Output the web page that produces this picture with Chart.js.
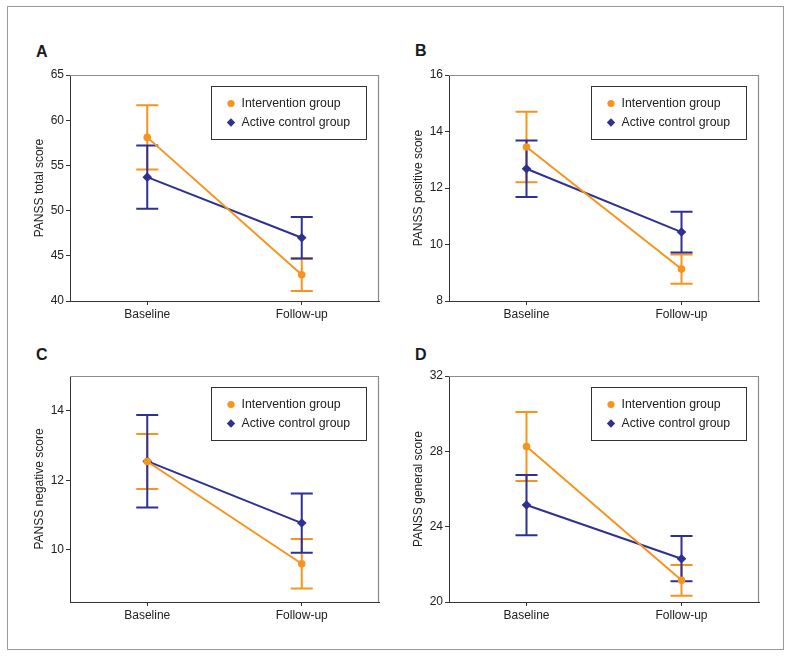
<!DOCTYPE html>
<html><head><meta charset="utf-8">
<script src="https://cdn.jsdelivr.net/npm/chart.js@4.4.0/dist/chart.umd.min.js"></script>
<style>
html,body{margin:0;padding:0;background:#fff;}
body{width:791px;height:657px;position:relative;overflow:hidden;font-family:"Liberation Sans",Arial,sans-serif;}
#frame{position:absolute;left:7px;top:6px;width:777px;height:644px;border:1px solid #9a9a9a;box-sizing:border-box;}
.lbl{position:absolute;font-weight:bold;font-size:16px;line-height:16px;color:#1a1a1a;}
.box{position:absolute;}
</style></head><body>
<div id="frame"></div>
<div class="lbl" style="left:36px;top:44px;">A</div>
<div class="lbl" style="left:415px;top:43px;">B</div>
<div class="lbl" style="left:36px;top:347px;">C</div>
<div class="lbl" style="left:415px;top:347px;">D</div>
<div class="box" id="bA"><canvas id="cA"></canvas></div>
<div class="box" id="bB"><canvas id="cB"></canvas></div>
<div class="box" id="bC"><canvas id="cC"></canvas></div>
<div class="box" id="bD"><canvas id="cD"></canvas></div>
<script>
// ---- data ----
const categories = ['Baseline', 'Follow-up'];
const seriesNames = ['Intervention group', 'Active control group'];

// Panel A: PANSS total score
const intA = [58.1, 42.9];
const intAErr = [3.55, 1.8];
const ctlA = [53.7, 47.0];
const ctlAErr = [3.5, 2.3];
const ticksA = [40, 45, 50, 55, 60, 65];

// Panel B: PANSS positive score
const intB = [13.45, 9.13];
const intBErr = [1.25, 0.52];
const ctlB = [12.68, 10.44];
const ctlBErr = [1.0, 0.72];
const ticksB = [8, 10, 12, 14, 16];

// Panel C: PANSS negative score
const intC = [12.54, 9.6];
const intCErr = [0.79, 0.71];
const ctlC = [12.55, 10.77];
const ctlCErr = [1.33, 0.85];
const ticksC = [10, 12, 14];

// Panel D: PANSS general score
const intD = [28.26, 21.15];
const intDErr = [1.83, 0.82];
const ctlD = [25.15, 22.3];
const ctlDErr = [1.6, 1.2];
const ticksD = [20, 24, 28, 32];

// ---- style ----
const ORANGE = '#f7941d';
const BLUE = '#2e3192';
const FONT = '"Liberation Sans", Arial, sans-serif';
const AXIS = '#333333';

const errPlugin = {
  id: 'errbars',
  beforeDatasetsDraw(chart) {
    const ctx = chart.ctx;
    const ys = chart.scales.y;
    chart.data.datasets.forEach((ds, i) => {
      const meta = chart.getDatasetMeta(i);
      ctx.save();
      ctx.strokeStyle = ds.borderColor;
      ctx.lineWidth = 2;
      meta.data.forEach((pt, j) => {
        const v = ds.data[j], e = ds.err[j];
        const yt = ys.getPixelForValue(v + e), yb = ys.getPixelForValue(v - e);
        const x = pt.x, w = 11;
        ctx.beginPath();
        ctx.moveTo(x, yt); ctx.lineTo(x, yb);
        ctx.moveTo(x - w, yt); ctx.lineTo(x + w, yt);
        ctx.moveTo(x - w, yb); ctx.lineTo(x + w, yb);
        ctx.stroke();
      });
      ctx.restore();
    });
  }
};

const framePlugin = {
  id: 'frameBox',
  beforeDatasetsDraw(chart) {
    const {ctx, chartArea: a} = chart;
    ctx.save();
    ctx.strokeStyle = '#8c8c8c';
    ctx.lineWidth = 1.2;
    ctx.beginPath();
    ctx.moveTo(a.left, Math.round(a.top) + 0.5);
    ctx.lineTo(Math.round(a.right) - 0.5, Math.round(a.top) + 0.5);
    ctx.lineTo(Math.round(a.right) - 0.5, a.bottom);
    ctx.stroke();
    ctx.restore();
  }
};

const legendPlugin = {
  id: 'boxLegend',
  afterDraw(chart) {
    const {ctx, chartArea: a} = chart;
    const L = Math.round(a.right - 168) + 0.5, T = Math.round(a.top + 11) + 0.5;
    const W = 155, H = 53;
    ctx.save();
    ctx.fillStyle = '#fff';
    ctx.fillRect(L, T, W, H);
    ctx.strokeStyle = '#333';
    ctx.lineWidth = 1;
    ctx.strokeRect(L, T, W, H);
    const ds = chart.data.datasets;
    ctx.font = '12.3px ' + FONT;
    ctx.textBaseline = 'middle';
    ctx.textAlign = 'left';
    // row 1 circle
    ctx.fillStyle = ds[0].borderColor;
    ctx.beginPath(); ctx.arc(L + 19.5, T + 17, 3.6, 0, Math.PI * 2); ctx.fill();
    // row 2 diamond
    ctx.fillStyle = ds[1].borderColor;
    const cx = L + 19.5, cy = T + 36, r = 4.2;
    ctx.beginPath(); ctx.moveTo(cx, cy - r); ctx.lineTo(cx + r, cy); ctx.lineTo(cx, cy + r); ctx.lineTo(cx - r, cy); ctx.closePath(); ctx.fill();
    ctx.fillStyle = '#222';
    ctx.fillText(ds[0].label, L + 30, T + 17.5);
    ctx.fillText(ds[1].label, L + 30, T + 36.5);
    ctx.restore();
  }
};

function makePanel(boxId, canvasId, rect, yTitle, yMin, yMax, yTicks, iv, ie, cv, ce) {
  const [Lp, Tp, Rp, Bp] = rect;
  const box = document.getElementById(boxId);
  box.style.left = (Lp - 60) + 'px';
  box.style.top = (Tp - 35) + 'px';
  box.style.width = (Rp - Lp + 71) + 'px';
  box.style.height = (Bp - Tp + 64) + 'px';
  new Chart(document.getElementById(canvasId), {
    type: 'line',
    data: {
      labels: categories,
      datasets: [
        {label: seriesNames[0], data: iv, err: ie, borderColor: ORANGE, backgroundColor: ORANGE,
         pointBackgroundColor: ORANGE, pointBorderColor: ORANGE, pointStyle: 'circle', pointRadius: 3.8,
         pointBorderWidth: 0, borderWidth: 2, tension: 0},
        {label: seriesNames[1], data: cv, err: ce, borderColor: BLUE, backgroundColor: BLUE,
         pointBackgroundColor: BLUE, pointBorderColor: BLUE, pointStyle: 'rectRot', pointRadius: 4.8,
         pointBorderWidth: 0, borderWidth: 2, tension: 0}
      ]
    },
    options: {
      responsive: true, maintainAspectRatio: false, animation: false,
      layout: {padding: {top: 35, right: 11, left: 0, bottom: 0}},
      plugins: {legend: {display: false}, tooltip: {enabled: false}, title: {display: false}},
      scales: {
        x: {
          type: 'category', offset: true,
          grid: {display: true, drawOnChartArea: false, offset: false, tickLength: 4, color: AXIS, tickColor: AXIS, lineWidth: 1},
          border: {display: true, color: AXIS, width: 1},
          ticks: {color: '#222', font: {size: 12, family: FONT}, padding: 2, maxRotation: 0, autoSkip: false},
          afterFit(s) { s.height = 29; }
        },
        y: {
          min: yMin, max: yMax,
          afterBuildTicks(s) { s.ticks = yTicks.map(v => ({value: v})); },
          grid: {display: true, drawOnChartArea: false, tickLength: 4, color: AXIS, tickColor: AXIS, lineWidth: 1},
          border: {display: true, color: AXIS, width: 1},
          ticks: {color: '#222', font: {size: 12, family: FONT}, padding: 2},
          title: {display: true, text: yTitle, color: '#222', font: {size: 12, family: FONT}, padding: {top: 22, bottom: 0}},
          afterFit(s) { s.width = 60; }
        }
      }
    },
    plugins: [errPlugin, framePlugin, legendPlugin]
  });
}

makePanel('bA', 'cA', [70, 75, 379, 301], 'PANSS total score', 40, 65, ticksA, intA, intAErr, ctlA, ctlAErr);
makePanel('bB', 'cB', [449, 75, 759, 301], 'PANSS positive score', 8, 16, ticksB, intB, intBErr, ctlB, ctlBErr);
makePanel('bC', 'cC', [70, 376, 379, 602], 'PANSS negative score', 8.5, 15, ticksC, intC, intCErr, ctlC, ctlCErr);
makePanel('bD', 'cD', [449, 376, 759, 602], 'PANSS general score', 20, 32, ticksD, intD, intDErr, ctlD, ctlDErr);
</script>
</body></html>
